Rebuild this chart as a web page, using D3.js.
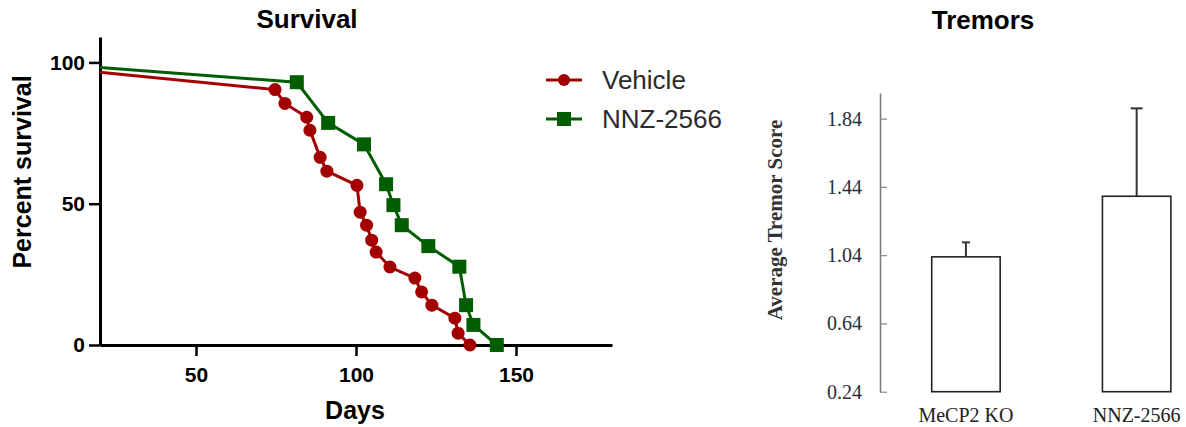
<!DOCTYPE html>
<html>
<head>
<meta charset="utf-8">
<script src="https://cdn.jsdelivr.net/npm/d3@7"></script>
<style>
  body { margin: 0; background: #fff; }
  svg { display: block; }
</style>
</head>
<body>
<div id="chart-container"></div>
<script>
// survival curves (first point = where curve enters the plot, no marker)
const vehicleDays = [20, 74.7, 77.8, 84.6, 85.6, 88.8, 90.9, 100.3, 101.3, 103.3, 104.9, 106.3, 110.6, 118.4, 120.5, 123.7, 130.9, 131.9, 135.6];
const vehiclePct = [96.5, 90.4, 85.5, 80.6, 76.0, 66.4, 61.5, 56.5, 47.0, 42.4, 37.1, 32.9, 27.6, 23.7, 18.8, 14.1, 9.5, 4.2, 0];
const nnzDays = [20, 81.5, 91.3, 102.5, 109.4, 111.7, 114.3, 122.6, 132.3, 134.4, 136.7, 144];
const nnzPct = [98.2, 93.0, 78.6, 71.0, 56.9, 49.5, 42.4, 35.0, 27.7, 14.1, 7.1, 0];
const survivalXTicks = [50, 100, 150];
const survivalYTicks = [0, 50, 100];

// tremor bars
const tremorGroups = ["MeCP2 KO", "NNZ-2566"];
const tremorMeans = [1.03, 1.385];
const tremorErrors = [0.085, 0.515];
const tremorTicks = [0.24, 0.64, 1.04, 1.44, 1.84];

const width = 1186;
const height = 427;
const red = "#a30000";
const green = "#005e00";

const svg = d3
  .select("#chart-container")
  .append("svg")
  .attr("width", width)
  .attr("height", height);

// ---------- Survival ----------
let xScale = d3.scaleLinear().domain([20, 180]).range([100, 612]);
let yScale = d3.scaleLinear().domain([0, 109]).range([345, 37]);

svg
  .append("text")
  .attr("x", 307)
  .attr("y", 28)
  .attr("text-anchor", "middle")
  .style("font", "bold 26px 'Liberation Sans', Arial, sans-serif")
  .text("Survival");

const xAxis = svg
  .append("g")
  .attr("transform", "translate(0,345)")
  .call(d3.axisBottom(xScale).tickValues(survivalXTicks).tickSizeInner(11).tickSizeOuter(0).tickPadding(11));

const yAxis = svg
  .append("g")
  .attr("transform", "translate(100,0)")
  .call(d3.axisLeft(yScale).tickValues(survivalYTicks).tickSizeInner(11).tickSizeOuter(0).tickPadding(4));

[xAxis, yAxis].forEach((ax) => {
  ax.select(".domain").attr("stroke", "#000").attr("stroke-width", 3);
  ax.selectAll(".tick line").attr("stroke", "#000").attr("stroke-width", 2.5);
  ax.selectAll(".tick text")
    .attr("fill", "#000")
    .style("font", "bold 21px 'Liberation Sans', Arial, sans-serif");
});

svg
  .append("text")
  .attr("transform", "rotate(-90)")
  .attr("x", -172)
  .attr("y", 31)
  .attr("text-anchor", "middle")
  .style("font", "bold 25px 'Liberation Sans', Arial, sans-serif")
  .text("Percent survival");

svg
  .append("text")
  .attr("x", 355)
  .attr("y", 419)
  .attr("text-anchor", "middle")
  .style("font", "bold 25px 'Liberation Sans', Arial, sans-serif")
  .text("Days");

const line = d3
  .line()
  .x((d) => xScale(d[0]))
  .y((d) => yScale(d[1]));

const vehicle = vehicleDays.map((d, i) => [d, vehiclePct[i]]);
const nnz = nnzDays.map((d, i) => [d, nnzPct[i]]);

svg.append("path")
  .datum(vehicle)
  .attr("d", line)
  .attr("fill", "none")
  .attr("stroke", red)
  .attr("stroke-width", 3);

svg.append("g")
  .selectAll("circle")
  .data(vehicle.slice(1))
  .enter()
  .append("circle")
  .attr("cx", (d) => xScale(d[0]))
  .attr("cy", (d) => yScale(d[1]))
  .attr("r", 6.5)
  .attr("fill", red);

svg.append("path")
  .datum(nnz)
  .attr("d", line)
  .attr("fill", "none")
  .attr("stroke", green)
  .attr("stroke-width", 3);

svg.append("g")
  .selectAll("rect")
  .data(nnz.slice(1))
  .enter()
  .append("rect")
  .attr("x", (d) => xScale(d[0]) - 7)
  .attr("y", (d) => yScale(d[1]) - 7)
  .attr("width", 14)
  .attr("height", 14)
  .attr("fill", green);

// legend
const legend = [
  { name: "Vehicle", color: red, y: 80, shape: "circle" },
  { name: "NNZ-2566", color: green, y: 119, shape: "square" },
];
legend.forEach((l) => {
  svg.append("line")
    .attr("x1", 546).attr("x2", 582)
    .attr("y1", l.y).attr("y2", l.y)
    .attr("stroke", l.color).attr("stroke-width", 3);
  if (l.shape === "circle") {
    svg.append("circle").attr("cx", 564).attr("cy", l.y).attr("r", 6).attr("fill", l.color);
  } else {
    svg.append("rect").attr("x", 557).attr("y", l.y - 7).attr("width", 14).attr("height", 14).attr("fill", l.color);
  }
  svg.append("text")
    .attr("x", 602)
    .attr("y", l.y)
    .attr("dy", "0.36em")
    .attr("fill", "#2a2a2a")
    .style("font", "26px 'Liberation Sans', Arial, sans-serif")
    .text(l.name);
});

// ---------- Tremors ----------
let tyScale = d3.scaleLinear().domain([0.24, 1.99]).range([391.7, 93]);
let txScale = d3.scaleBand().domain(tremorGroups).range([880, 1222.6]).paddingInner(0.599).paddingOuter(0.303);

svg
  .append("text")
  .attr("x", 983)
  .attr("y", 29)
  .attr("text-anchor", "middle")
  .style("font", "bold 26px 'Liberation Sans', Arial, sans-serif")
  .text("Tremors");

const tyAxis = svg
  .append("g")
  .attr("transform", "translate(880,0)")
  .call(d3.axisLeft(tyScale).tickValues(tremorTicks).tickFormat(d3.format(".2f")).tickSizeInner(-7).tickSizeOuter(0).tickPadding(18));

tyAxis.select(".domain").attr("stroke", "#777").attr("stroke-width", 1.5);
tyAxis.selectAll(".tick line").attr("stroke", "#888").attr("stroke-width", 1.2);
tyAxis.selectAll(".tick text")
  .attr("fill", "#2b2b3a")
  .style("font", "20px 'Liberation Serif', 'Times New Roman', serif");

svg
  .append("text")
  .attr("transform", "rotate(-90)")
  .attr("x", -220)
  .attr("y", 782)
  .attr("text-anchor", "middle")
  .attr("fill", "#333")
  .style("font", "bold 21px 'Liberation Serif', 'Times New Roman', serif")
  .text("Average Tremor Score");

const bars = tremorGroups.map((g, i) => ({ g: g, mean: tremorMeans[i], err: tremorErrors[i] }));

// error bars (upper only)
svg.append("g")
  .selectAll("line")
  .data(bars)
  .enter()
  .append("line")
  .attr("x1", (d) => txScale(d.g) + txScale.bandwidth() / 2)
  .attr("x2", (d) => txScale(d.g) + txScale.bandwidth() / 2)
  .attr("y1", (d) => tyScale(d.mean))
  .attr("y2", (d) => tyScale(d.mean + d.err))
  .attr("stroke", "#333")
  .attr("stroke-width", 2);

svg.append("g")
  .selectAll("line")
  .data(bars)
  .enter()
  .append("line")
  .attr("x1", (d, i) => txScale(d.g) + txScale.bandwidth() / 2 - (i === 0 ? 4 : 6))
  .attr("x2", (d, i) => txScale(d.g) + txScale.bandwidth() / 2 + (i === 0 ? 4 : 6))
  .attr("y1", (d) => tyScale(d.mean + d.err))
  .attr("y2", (d) => tyScale(d.mean + d.err))
  .attr("stroke", "#333")
  .attr("stroke-width", 2);

svg.append("g")
  .selectAll("rect")
  .data(bars)
  .enter()
  .append("rect")
  .attr("x", (d) => txScale(d.g))
  .attr("y", (d) => tyScale(d.mean))
  .attr("width", txScale.bandwidth())
  .attr("height", (d) => tyScale(0.24) - tyScale(d.mean))
  .attr("fill", "#fff")
  .attr("stroke", "#222")
  .attr("stroke-width", 1.6);

svg.append("g")
  .selectAll("text")
  .data(tremorGroups)
  .enter()
  .append("text")
  .attr("x", (d) => txScale(d) + txScale.bandwidth() / 2)
  .attr("y", 422)
  .attr("text-anchor", "middle")
  .attr("fill", "#222")
  .style("font", "20px 'Liberation Serif', 'Times New Roman', serif")
  .text((d) => d);
</script>
</body>
</html>
